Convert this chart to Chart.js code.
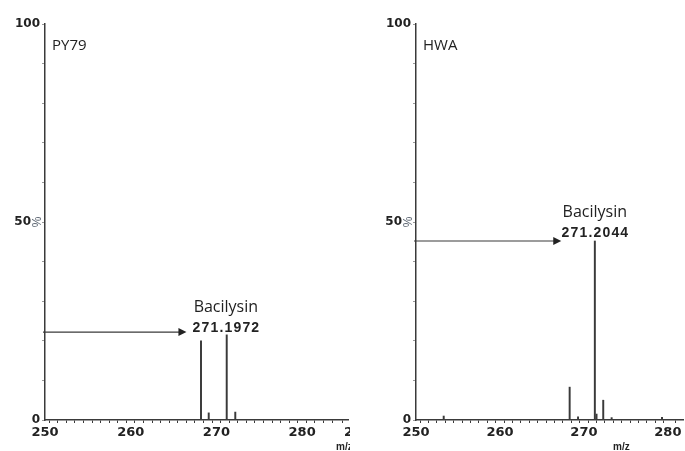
<!DOCTYPE html>
<html>
<head>
<meta charset="utf-8">
<script src="https://cdn.jsdelivr.net/npm/chart.js@4/dist/chart.umd.min.js"></script>
<style>
  body { margin: 0; background: #fff; }
  #left { position: absolute; left: 0; top: 0; }
  #right { position: absolute; left: 350px; top: 0; }
</style>
</head>
<body>
<canvas id="left" width="350" height="451"></canvas>
<canvas id="right" width="335" height="451"></canvas>
<script>
// PY79 spectrum
var py79Mz = [268.2, 269.1, 271.2, 272.2];
var py79Int = [20, 1.8, 21.5, 2.0];
// HWA spectrum
var hwaMz = [253.3, 268.3, 269.3, 271.3, 271.5, 272.3, 273.3, 279.3];
var hwaInt = [1.0, 8.3, 0.8, 45.2, 1.5, 5.0, 0.6, 0.7];

var yLabels = [0, 50, 100];
var xLabels = [250, 260, 270, 280];

var ink = '#3a3a3a';

function annotate(opts) {
    return {
        id: 'notes',
        afterDraw: function (chart) {
            var ctx = chart.ctx;
            var x = chart.scales.x, y = chart.scales.y;
            var area = chart.chartArea;
            ctx.save();
            ctx.fillStyle = '#222';
            ctx.textBaseline = 'middle';

            // sample name
            ctx.font = '15px "Open Sans"';
            ctx.textAlign = 'left';
            ctx.fillText(opts.name, area.left + 7, 46);

            // arrow to the peak
            var ay = y.getPixelForValue(opts.arrowY);
            var ax = x.getPixelForValue(opts.arrowTo);
            ctx.strokeStyle = ink;
            ctx.lineWidth = 1.2;
            ctx.beginPath();
            ctx.moveTo(area.left - 2, ay);
            ctx.lineTo(ax - 6, ay);
            ctx.stroke();
            ctx.beginPath();
            ctx.moveTo(ax, ay);
            ctx.lineTo(ax - 8, ay - 4);
            ctx.lineTo(ax - 8, ay + 4);
            ctx.closePath();
            ctx.fill();

            // labels
            var lx = x.getPixelForValue(opts.labelX);
            ctx.textAlign = 'center';
            ctx.font = '16px "Open Sans"';
            ctx.fillText('Bacilysin', lx, y.getPixelForValue(opts.labelY) - 21);
            ctx.font = 'bold 14px "Liberation Sans"';
            ctx.fillText(opts.mass.split('').join(String.fromCharCode(8202)), lx, y.getPixelForValue(opts.labelY));

            // rotated percent sign next to 50
            var py = y.getPixelForValue(50);
            ctx.save();
            ctx.translate(area.left - 7, py);
            ctx.rotate(-Math.PI / 2);
            ctx.font = '12px "Liberation Sans"';
            ctx.fillStyle = '#5a6470';
            ctx.fillText('%', 0, 0);
            ctx.restore();

            // axis title
            ctx.font = 'bold 10px "Liberation Sans"';
            ctx.fillStyle = '#222';
            ctx.textAlign = 'left';
            ctx.fillText('m/z', opts.mzX, 447);
            if (opts.cut) {
                ctx.font = 'bold 13px "DejaVu Sans"';
                ctx.fillText('2', chart.width - 6, 433);
            }
            ctx.restore();
        }
    };
}

function makeChart(id, mz, intensity, xMax, yWidth, opts) {
    var points = mz.map(function (m, i) {
        return { x: m, y: intensity[i] };
    });
    var ctx = document.getElementById(id).getContext('2d');
    return new Chart(ctx, {
        type: 'bar',
        data: {
            datasets: [{
                data: points,
                backgroundColor: ink,
                barThickness: 1.3,
                borderWidth: 0
            }]
        },
        options: {
            responsive: false,
            animation: false,
            devicePixelRatio: 1,
            layout: { padding: { top: 24, right: 0, left: 0, bottom: 0 } },
            plugins: { legend: { display: false }, tooltip: { enabled: false } },
            scales: {
                x: {
                    type: 'linear',
                    min: 250,
                    max: xMax,
                    offset: false,
                    afterFit: function (s) { s.height = 31; },
                    border: { display: true, color: ink, width: 1.5 },
                    grid: { drawOnChartArea: false, tickLength: 3, color: ink },
                    ticks: {
                        stepSize: 1,
                        autoSkip: false,
                        maxRotation: 0,
                        padding: 2,
                        color: '#222',
                        font: { family: 'DejaVu Sans', weight: 'bold', size: 13 },
                        callback: function (v) { return xLabels.indexOf(v) >= 0 ? String(v) : ''; }
                    }
                },
                y: {
                    min: 0,
                    max: 100,
                    afterFit: function (s) { s.width = yWidth; },
                    border: { display: true, color: ink, width: 1.5 },
                    grid: { drawOnChartArea: false, tickLength: 3, color: '#999' },
                    ticks: {
                        stepSize: 10,
                        autoSkip: false,
                        padding: 2,
                        color: '#222',
                        font: { family: 'DejaVu Sans', weight: 'bold', size: 12 },
                        callback: function (v) {
                            if (v === 50) return '50\u2002\u2005';
                            return yLabels.indexOf(v) >= 0 ? String(v) : '';
                        }
                    }
                }
            }
        },
        plugins: [annotate(opts)]
    });
}

makeChart('left', py79Mz, py79Int, 285.35, 45, {
    name: 'PY79', mass: '271.1972', arrowY: 22.2, arrowTo: 266.5,
    labelX: 271.1, labelY: 23.2, mzX: 336, cut: true
});
makeChart('right', hwaMz, hwaInt, 281.8, 66, {
    name: 'HWA', mass: '271.2044', arrowY: 45.2, arrowTo: 267.3,
    labelX: 271.3, labelY: 47.2, mzX: 263, cut: false
});
</script>
</body>
</html>
